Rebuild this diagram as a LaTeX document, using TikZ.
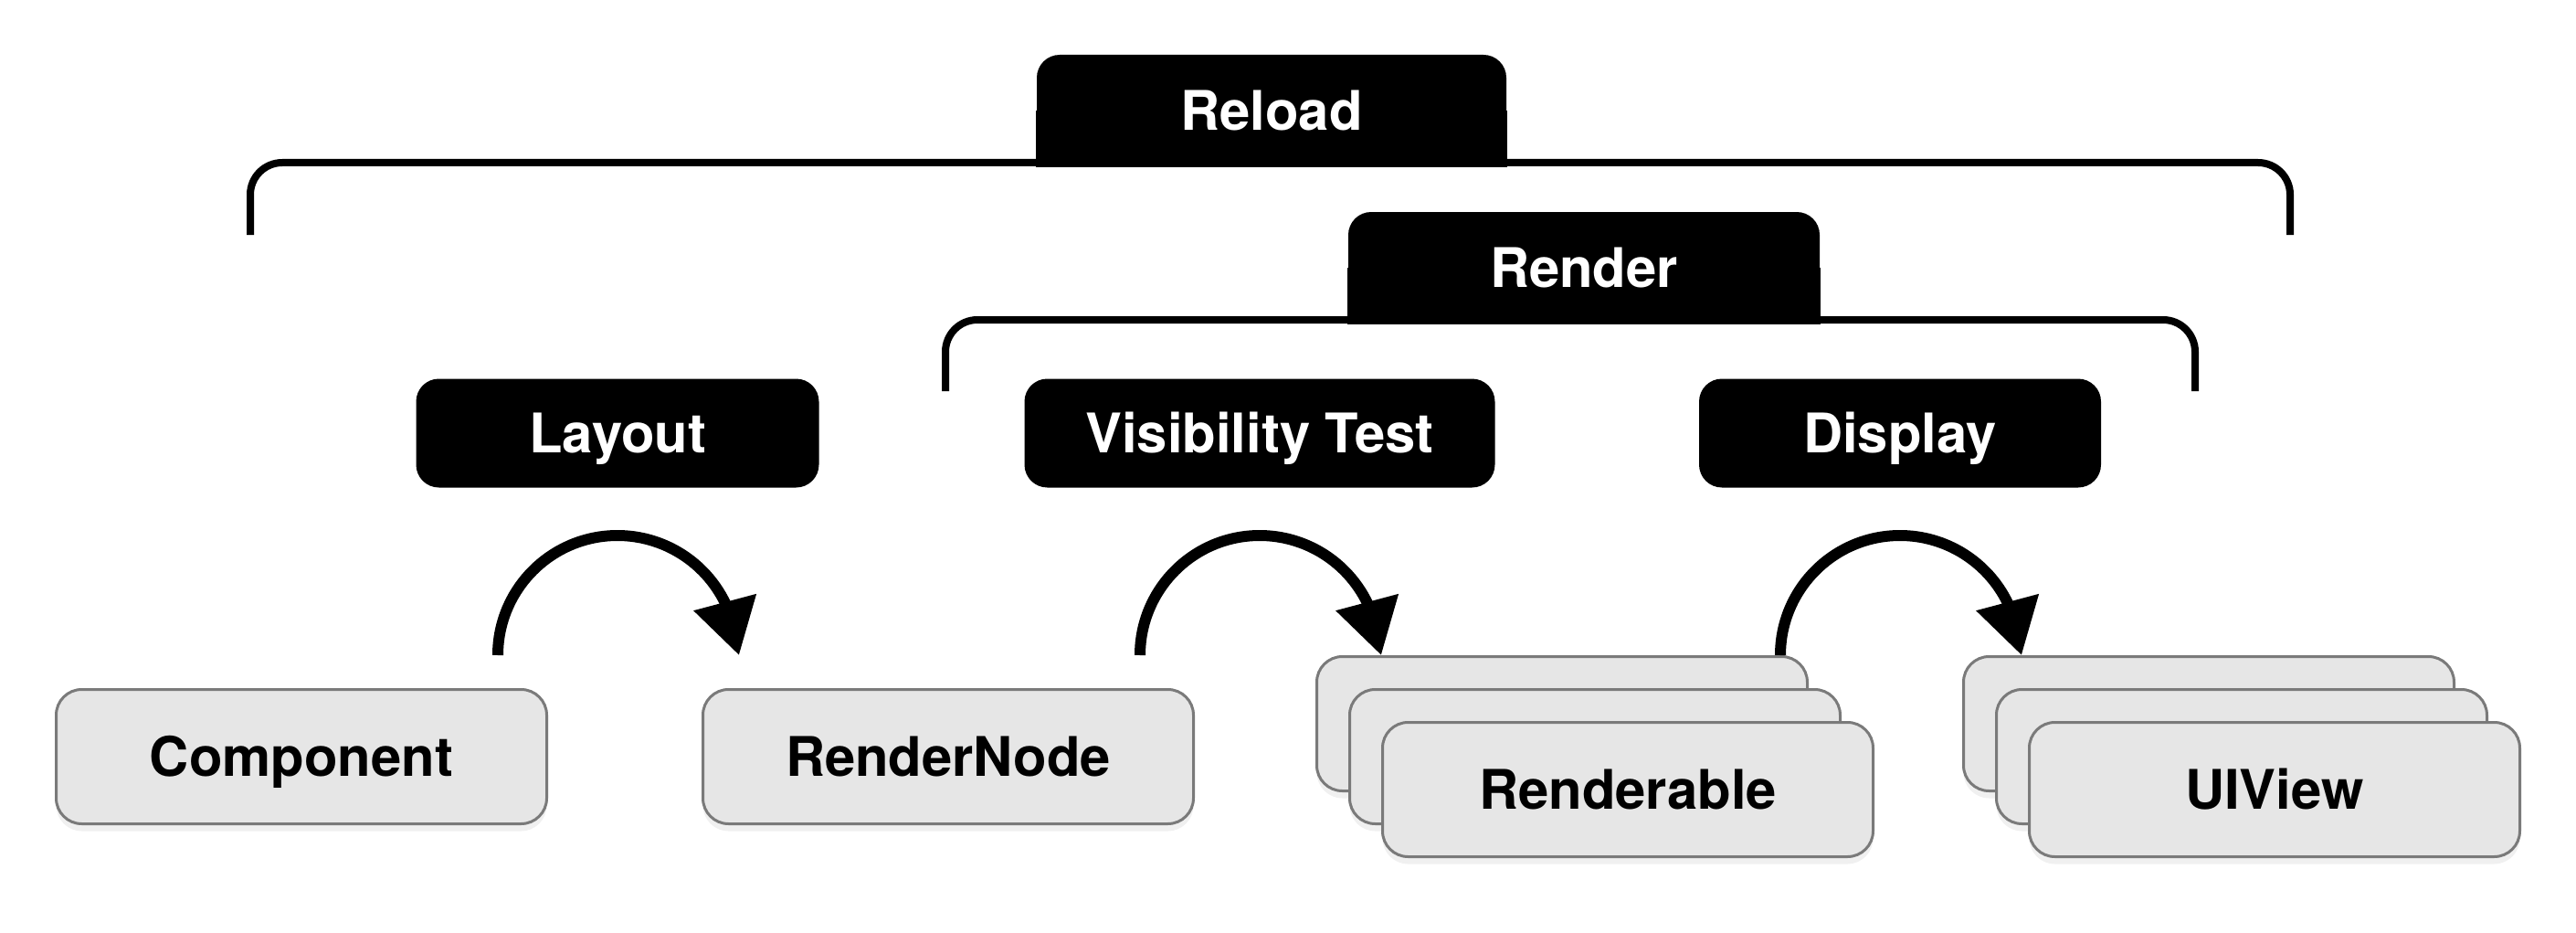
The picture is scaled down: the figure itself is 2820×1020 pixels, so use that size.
\documentclass[tikz,border=0pt]{standalone}
\usepackage{fontspec}
\setmainfont{TeX Gyre Heros}
\usetikzlibrary{positioning,arrows.meta,shadows,backgrounds}
\definecolor{boxgray}{HTML}{E6E6E6}
\definecolor{edgegray}{HTML}{7A7A7A}

\begin{document}
\begin{tikzpicture}[x=0.1mm,y=0.1mm,
        stage/.style={fill=black,text=white,rounded corners=2.5mm,inner sep=0pt,
            minimum height=11.9mm,text height=12.3pt,text depth=0pt,
            font=\fontsize{17}{20}\selectfont\bfseries},
        group/.style={stage,minimum height=12.2mm},
        item/.style={draw=edgegray,line width=0.3mm,fill=boxgray,rounded corners=2.8mm,
            inner sep=0pt,minimum width=53.7mm,minimum height=14.7mm,
            text height=12.3pt,text depth=0pt,
            font=\fontsize{17}{20}\selectfont\bfseries,
            drop shadow={shadow xshift=0mm,shadow yshift=-0.8mm,opacity=0.12}},
        bracket/.style={line width=0.8mm,rounded corners=3.5mm},
        turn/.style={line width=1.2mm,-{Triangle[length=6mm,width=6.8mm]}}]
        \useasboundingbox (0,0) rectangle (2820,1020);

        % brackets
        \draw[bracket] (274,763) |- (2507,842) -- (2507,763);
        \draw[bracket] (1035,592) |- (2403,670) -- (2403,592);

        \node[group,minimum width=51.4mm] (reload) at (1392,899) {Reload};
        \node[group,minimum width=51.6mm] (render) at (1734,727) {Render};
        \begin{scope}[on background layer]
            \foreach \g in {reload,render}
                \fill (\g.south west) rectangle (\g.east);
        \end{scope}

        % steps
        \node[stage,minimum width=44.1mm] (layout) at (676,546) {Layout};
        \node[stage,minimum width=51.5mm] (vistest) at (1379,546) {Visibility Test};
        \node[stage,minimum width=44mm] (display) at (2080,546) {Display};

        % boxes
        \node[item] (comp) at (330,192) {Component};
        \node[item,right=16.8mm of comp] (rnode) {RenderNode};
        \node[item,right=16.8mm of rnode,xshift=-3.6mm,yshift=3.6mm] (rble3) {};
        \node[item] (rble2) at ([shift={(36,-36)}]rble3.center) {};
        \node[item] (rble) at ([shift={(36,-36)}]rble2.center) {Renderable};
        \node[item,right=16.8mm of rble2,xshift=-3.6mm,yshift=3.6mm] (view3) {};
        \node[item] (view2) at ([shift={(36,-36)}]view3.center) {};
        \node[item] (view) at ([shift={(36,-36)}]view2.center) {UIView};

        % turns
        \foreach \s in {layout,vistest,display}{
            \coordinate (\s-a) at ([shift={(-131,-243)}]\s.center);
            \coordinate (\s-b) at ([shift={(133,-243)}]\s.center);
            \draw[turn] (\s-a) arc[start angle=180,end angle=26,radius=13.1mm] -- (\s-b);
        }
    \end{tikzpicture}
\end{document}
